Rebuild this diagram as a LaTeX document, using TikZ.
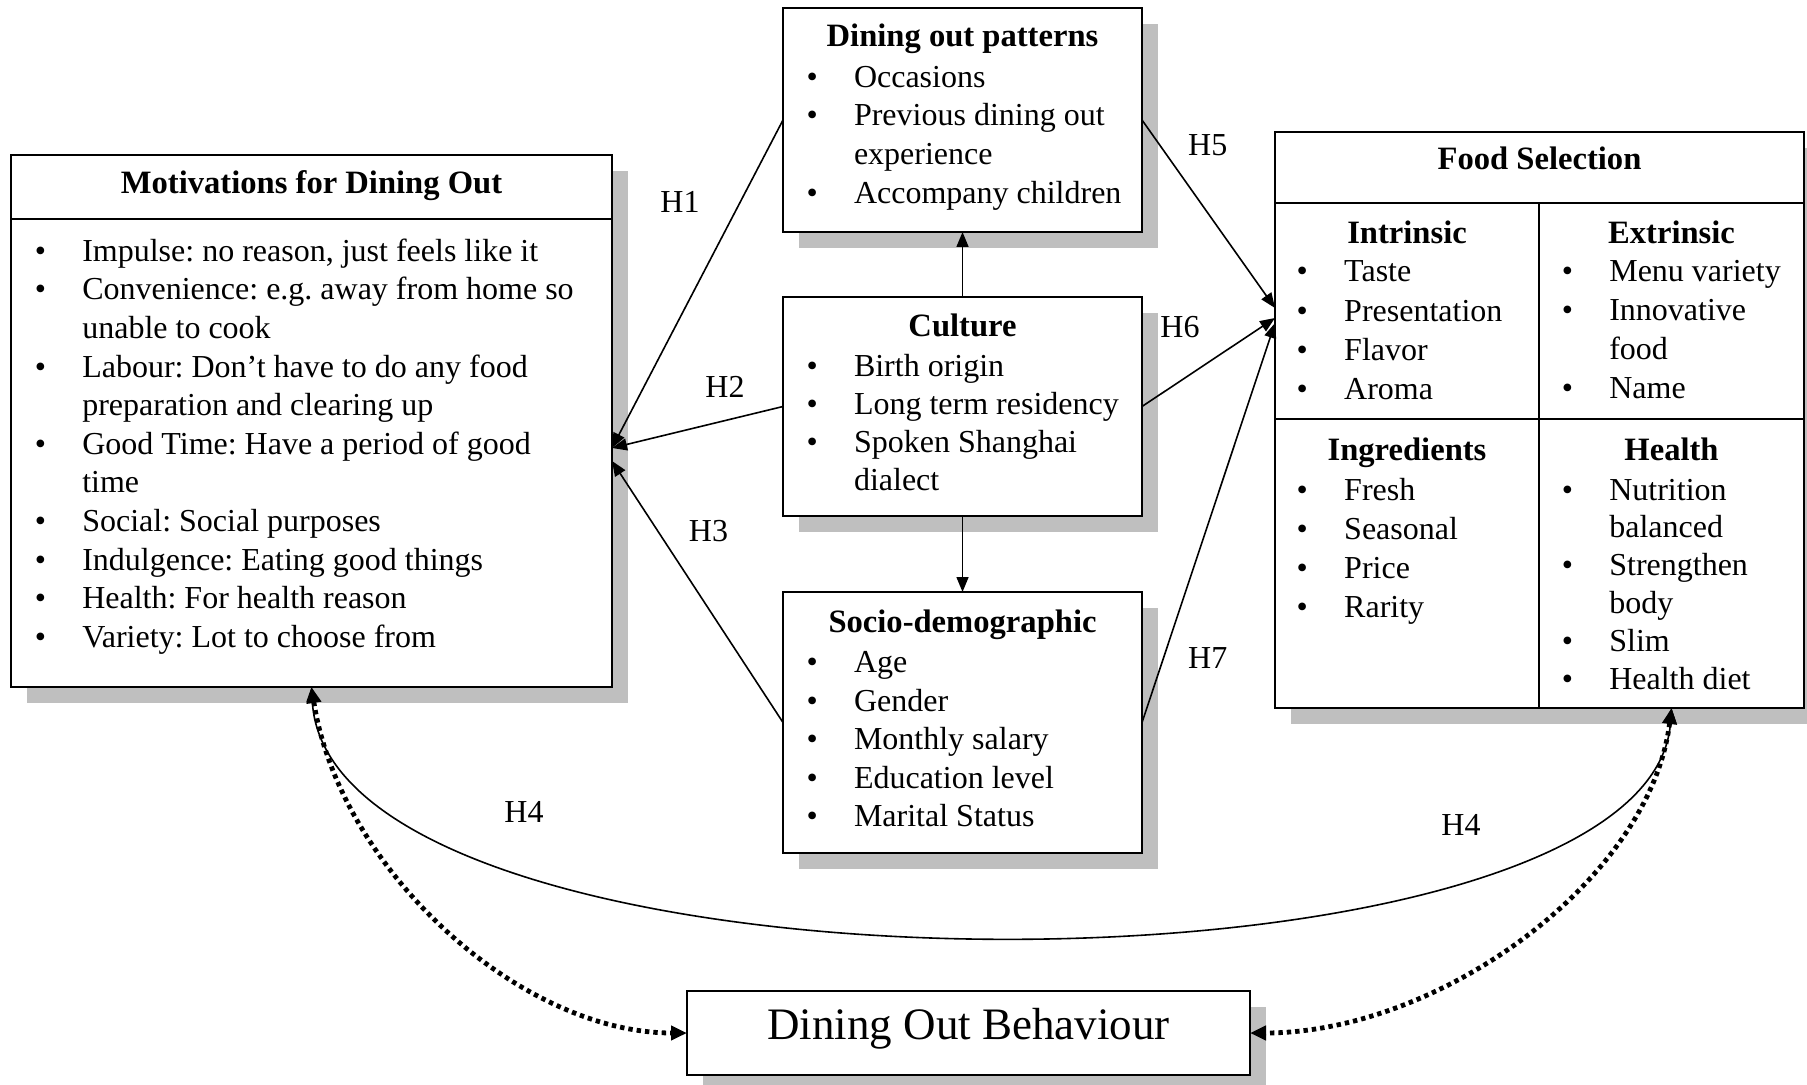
\documentclass[tikz,border=0pt]{standalone}
\usepackage{fontspec}
\setmainfont{Liberation Serif}
\usetikzlibrary{arrows.meta,shadows}
\definecolor{shadowgray}{RGB}{191,191,191}
\newlength{\px}\setlength{\px}{0.5pt}
\newcommand{\bi}{\makebox[47.5\px][l]{\textbullet}}
\newcommand{\ci}{\hspace*{47.5\px}}
\newcommand{\lstfont}[1]{\fontsize{16pt}{#1}\selectfont}
\frenchspacing
\begin{document}
\begin{tikzpicture}[x=0.5pt,y=-0.5pt,
  box/.style={draw, line width=1pt, fill=white,
    drop shadow={shadow xshift=8pt,shadow yshift=-8pt,opacity=1,fill=shadowgray},
    anchor=north west, inner sep=0pt, outer sep=0pt},
  head/.style={font=\fontsize{16.3pt}{19pt}\selectfont\bfseries, inner sep=0pt, anchor=base},
  lst/.style={inner sep=0pt, anchor=base west},
  hl/.style={font=\fontsize{16pt}{19pt}\selectfont, inner sep=0pt},
  arr/.style={line width=0.8pt, -{Triangle[length=7.5pt,width=6pt]}},
  curv/.style={line width=0.8pt, {Triangle[length=7.5pt,width=6pt]}-{Triangle[length=7.5pt,width=6pt]}},
  dots/.style={line width=2.4pt, dash pattern=on 2.2pt off 2pt,
    {Triangle[length=8pt,width=7pt]}-{Triangle[length=8pt,width=7pt]}},
  divider/.style={line width=1pt}
]
\fill[white] (0,0) rectangle (1807,1085);
\useasboundingbox (0,0) rectangle (1807,1085);

% boxes
\node[box, minimum width=300.5pt, minimum height=266pt] (mot) at (11,155) {};
\node[box, minimum width=179.5pt, minimum height=112pt] (dop) at (783,8) {};
\node[box, minimum width=179.5pt, minimum height=109.5pt] (cul) at (783,297) {};
\node[box, minimum width=179.5pt, minimum height=130.5pt] (soc) at (783,592) {};
\node[box, minimum width=264.5pt, minimum height=288pt] (food) at (1275,132) {};
\node[box, minimum width=281.5pt, minimum height=42pt] (dob) at (687,991) {};

% dividers
\draw[divider] (11,219) -- (612,219);
\draw[divider] (1275,203) -- (1804,203);
\draw[divider] (1539,203) -- (1539,708);
\draw[divider] (1275,419) -- (1804,419);

% Motivations
\node[head] (motH) at (311.5,193.6) {Motivations for Dining Out};
\node[lst, font=\lstfont{19.3pt}] (motL) at (34.4,261.4) {\begin{tabular}[t]{@{}l@{}}
\bi Impulse: no reason, just feels like it\\
\bi Convenience: e.g. away from home so\\
\ci unable to cook\\
\bi Labour: Don’t have to do any food\\
\ci preparation and clearing up\\
\bi Good Time: Have a period of good\\
\ci time\\
\bi Social: Social purposes\\
\bi Indulgence: Eating good things\\
\bi Health: For health reason\\
\bi Variety: Lot to choose from
\end{tabular}};

% Dining out patterns
\node[head] (dopH) at (962.5,47) {Dining out patterns};
\node[lst, font=\lstfont{19.35pt}] (dopL) at (806.1,87.3) {\begin{tabular}[t]{@{}l@{}}
\bi Occasions\\
\bi Previous dining out\\
\ci experience\\
\bi Accompany children
\end{tabular}};

% Culture
\node[head] (culH) at (962.5,336.5) {Culture};
\node[lst, font=\lstfont{19pt}] (culL) at (806.1,376.3) {\begin{tabular}[t]{@{}l@{}}
\bi Birth origin\\
\bi Long term residency\\
\bi Spoken Shanghai\\
\ci dialect
\end{tabular}};

% Socio-demographic
\node[head] (socH) at (962.5,632) {Socio-demographic};
\node[lst, font=\lstfont{19.25pt}] (socL) at (806.1,672.5) {\begin{tabular}[t]{@{}l@{}}
\bi Age\\
\bi Gender\\
\bi Monthly salary\\
\bi Education level\\
\bi Marital Status
\end{tabular}};

% Food selection
\node[head] (foodH) at (1539.5,170) {Food Selection};
\node[head] (intH) at (1407,243.5) {Intrinsic};
\node[lst, font=\lstfont{19.65pt}] (intL) at (1296.3,282) {\begin{tabular}[t]{@{}l@{}}
\bi Taste\\
\bi Presentation\\
\bi Flavor\\
\bi Aroma
\end{tabular}};
\node[head] (extH) at (1671.5,243.5) {Extrinsic};
\node[lst, font=\lstfont{19.35pt}] (extL) at (1561.4,282) {\begin{tabular}[t]{@{}l@{}}
\bi Menu variety\\
\bi Innovative\\
\ci food\\
\bi Name
\end{tabular}};
\node[head] (ingH) at (1407,460) {Ingredients};
\node[lst, font=\lstfont{19.6pt}] (ingL) at (1296.3,500) {\begin{tabular}[t]{@{}l@{}}
\bi Fresh\\
\bi Seasonal\\
\bi Price\\
\bi Rarity
\end{tabular}};
\node[head] (heaH) at (1671.5,460) {Health};
\node[lst, font=\lstfont{18.95pt}] (heaL) at (1561.4,500) {\begin{tabular}[t]{@{}l@{}}
\bi Nutrition\\
\ci balanced\\
\bi Strengthen\\
\ci body\\
\bi Slim\\
\bi Health diet
\end{tabular}};

% Dining Out Behaviour
\node[inner sep=0pt, anchor=base, font=\fontsize{22.5pt}{27pt}\selectfont] (dobT) at (968.5,1039.3) {Dining Out Behaviour};

% hypothesis labels
\node[hl] (h1) at (680,201.7) {H1};
\node[hl] (h2) at (725,387) {H2};
\node[hl] (h3) at (708.5,531) {H3};
\node[hl] (h4a) at (524,812) {H4};
\node[hl] (h4b) at (1461,825) {H4};
\node[hl] (h5) at (1207.7,145) {H5};
\node[hl] (h6) at (1180,327) {H6};
\node[hl] (h7) at (1207.7,658) {H7};

% connector end points
\coordinate (mA) at (612,448);
\coordinate (mB) at (612,461);
\coordinate (fA) at (1275,308);
\coordinate (fB) at (1275,318);
\coordinate (fC) at (1275,323);
\coordinate (fS) at (1671.5,708);

% connectors
\draw[arr] (dop.west) -- (mA);
\draw[arr] (cul.west) -- (mA);
\draw[arr] (soc.west) -- (mB);
\draw[arr] (cul.north) -- (dop.south);
\draw[arr] (cul.south) -- (soc.north);
\draw[arr] (dop.east) -- (fA);
\draw[arr] (cul.east) -- (fB);
\draw[arr] (soc.east) -- (fC);
\draw[curv] (mot.south) .. controls (330,1015) and (1650,1015) .. (fS);
\draw[dots] (mot.south) .. controls (340,870) and (520,1033) .. (dob.west);
\draw[dots] (fS) .. controls (1650,880) and (1440,1033) .. (dob.east);
\end{tikzpicture}
\end{document}
